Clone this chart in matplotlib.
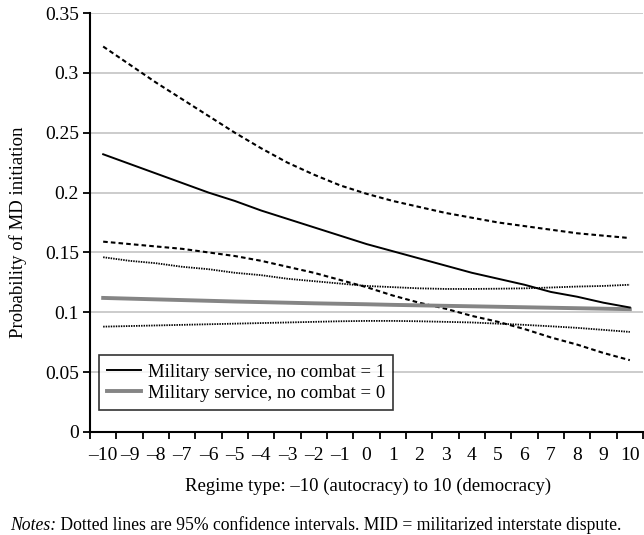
import matplotlib
matplotlib.use("Agg")
import matplotlib.pyplot as plt
import numpy as np

plt.rcParams['font.family'] = ['Liberation Serif', 'DejaVu Serif']

regime = list(range(-10, 11))
xlabels = [str(v).replace('-', '\u2013') for v in regime]

# military service, no combat = 1
s1 = [0.232, 0.224, 0.216, 0.208, 0.200, 0.193, 0.185, 0.178, 0.171, 0.164, 0.157,
      0.151, 0.145, 0.139, 0.133, 0.128, 0.123, 0.117, 0.113, 0.108, 0.104]
s1_hi = [0.322, 0.307, 0.292, 0.278, 0.264, 0.250, 0.237, 0.225, 0.215, 0.206, 0.199,
         0.193, 0.188, 0.183, 0.179, 0.175, 0.172, 0.169, 0.166, 0.164, 0.162]
s1_lo = [0.159, 0.157, 0.155, 0.153, 0.150, 0.147, 0.143, 0.138, 0.133, 0.127, 0.121,
         0.114, 0.108, 0.103, 0.097, 0.092, 0.086, 0.079, 0.073, 0.066, 0.060]

# military service, no combat = 0
s0 = [0.112, 0.1114, 0.1108, 0.1102, 0.1096, 0.109, 0.1085, 0.108, 0.1075, 0.1071, 0.1067,
      0.1062, 0.1058, 0.1054, 0.105, 0.1046, 0.1042, 0.1038, 0.1034, 0.103, 0.1026]
s0_hi = [0.146, 0.143, 0.141, 0.138, 0.136, 0.133, 0.131, 0.128, 0.126, 0.124, 0.122,
         0.121, 0.120, 0.1195, 0.1195, 0.1197, 0.120, 0.1207, 0.1215, 0.122, 0.123]
s0_lo = [0.088, 0.0885, 0.089, 0.0895, 0.090, 0.0905, 0.091, 0.0915, 0.092, 0.0925, 0.0928,
         0.0928, 0.0925, 0.092, 0.0915, 0.0905, 0.0895, 0.0883, 0.087, 0.0853, 0.0836]

yticks = [0, 0.05, 0.1, 0.15, 0.2, 0.25, 0.3, 0.35]
ylabels = ['0', '0.05', '0.1', '0.15', '0.2', '0.25', '0.3', '0.35']

fig = plt.figure(figsize=(6.44, 5.35), dpi=100)
ax = fig.add_axes([90/644, 103/535, 553/644, 419/535])

ax.plot(regime, s1_hi, color='black', lw=1.5, ls=(0, (2.2, 1.5)))
ax.plot(regime, s1_lo, color='black', lw=1.5, ls=(0, (2.2, 1.5)))
ax.plot(regime, s0_hi, color='black', lw=1.3, ls=(0, (0.8, 0.6)))
ax.plot(regime, s0_lo, color='black', lw=1.3, ls=(0, (0.8, 0.6)))
ax.plot(regime, s0, color='#858585', lw=2.8, label='Military service, no combat = 0')
ax.plot(regime, s1, color='black', lw=1.4, label='Military service, no combat = 1')

ax.set_xlim(-10.5, 10.5)
ax.set_ylim(0, 0.35)
ax.set_yticks(yticks)
ax.set_yticklabels(ylabels, fontsize=14)
ax.set_xticks(regime)
ax.set_xticklabels(xlabels, fontsize=14)
ax.set_xticks(np.arange(-10.5, 11, 1), minor=True)
ax.tick_params(axis='x', which='major', length=0, pad=11)
ax.tick_params(axis='x', which='minor', length=5, width=1.3, direction='out')
ax.tick_params(axis='y', length=5, width=1.3, pad=3)

ax.grid(axis='y', color='#c4c4c4', lw=1.2)
ax.set_axisbelow(True)
for side in ['top', 'right']:
    ax.spines[side].set_visible(False)
for side in ['left', 'bottom']:
    ax.spines[side].set_linewidth(1.5)

ax.set_ylabel('Probability of MD initiation', fontsize=13.5)
ax.yaxis.set_label_coords(-0.114, 0.477)
ax.set_xlabel('Regime type: \u201310 (autocracy) to 10 (democracy)', fontsize=13.5)
ax.xaxis.set_label_coords(0.503, -0.108)

handles, labels = ax.get_legend_handles_labels()
leg = ax.legend(handles[::-1], labels[::-1], loc='lower left', bbox_to_anchor=(0.016, 0.052),
                borderaxespad=0, fontsize=13.5, frameon=True, fancybox=False,
                handlelength=1.8, handletextpad=0.35, borderpad=0.45, labelspacing=0.2)
leg.get_frame().set_edgecolor('black')
leg.get_frame().set_linewidth(1.2)

t1 = fig.text(10/644, 10/535, 'Notes:', fontsize=12.7, style='italic', va='center')
ax.annotate(' Dotted lines are 95% confidence intervals. MID = militarized interstate dispute.',
            xy=(1, 0.5), xycoords=t1, va='center', fontsize=12.7, annotation_clip=False)

fig.savefig('out.png', dpi=100)
